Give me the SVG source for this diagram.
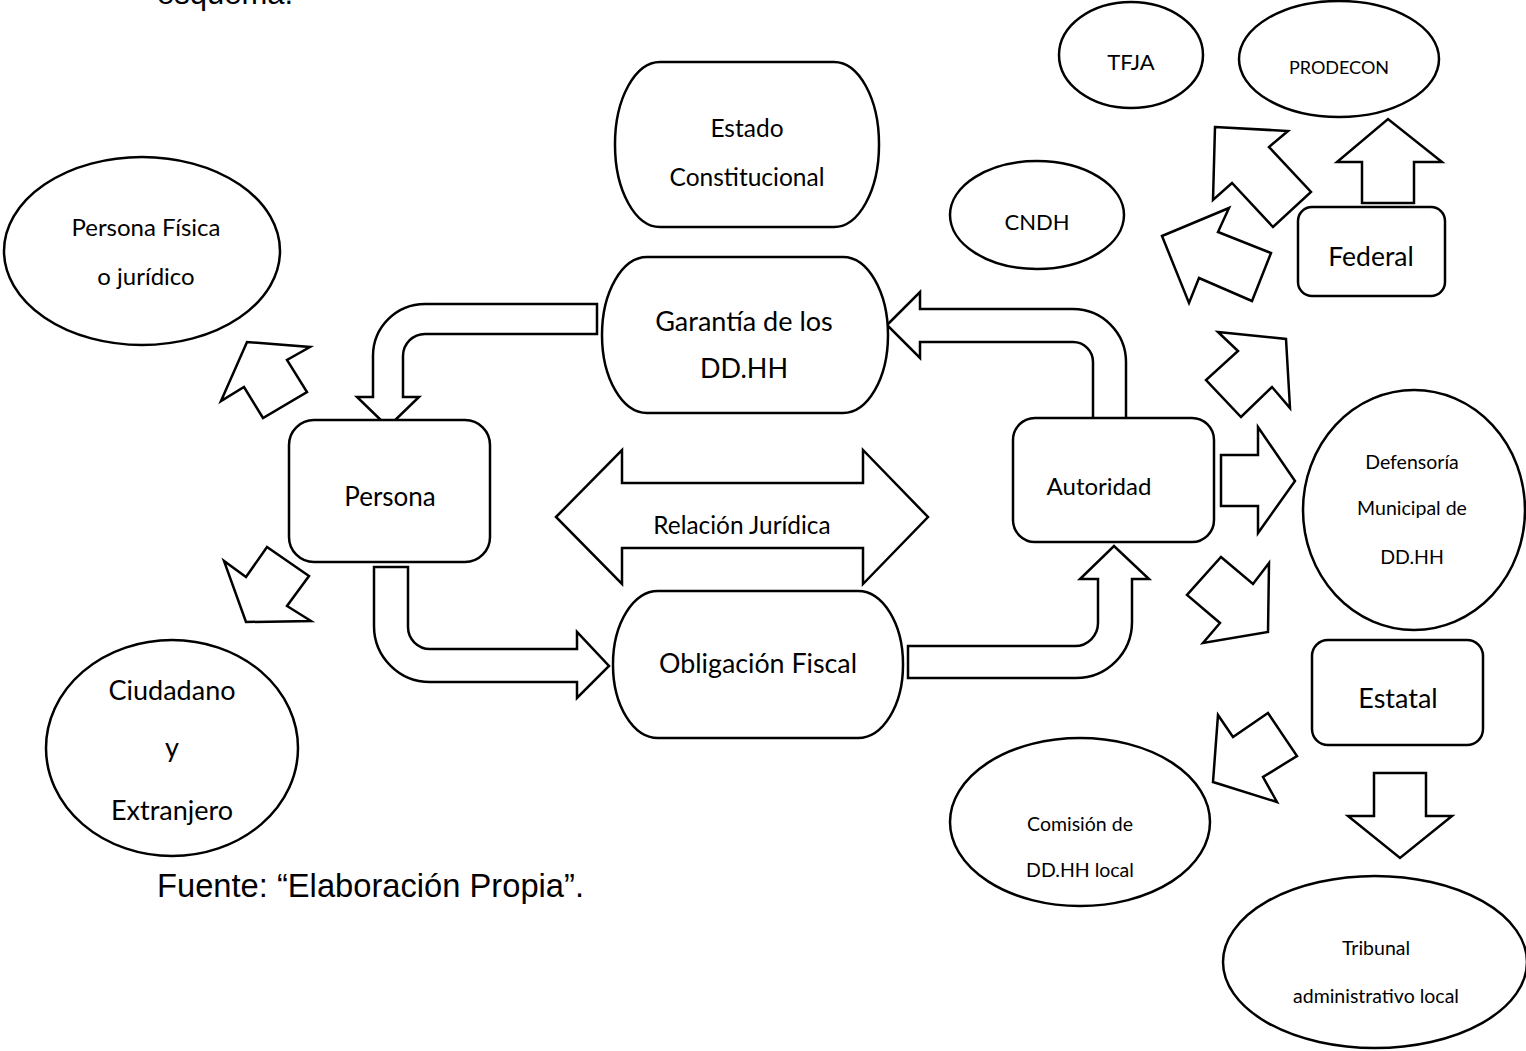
<svg xmlns="http://www.w3.org/2000/svg" width="1526" height="1051" viewBox="0 0 1526 1051">
<style>
.s{fill:#fff;stroke:#000;stroke-width:2.5;stroke-linejoin:miter}
.t{font-family:Lato,"Open Sans","Noto Sans",sans-serif;fill:#000;text-anchor:middle}
.a{font-family:"Liberation Sans",Arial,sans-serif;fill:#000}
</style>
<rect width="1526" height="1051" fill="#fff"/>
<text class="a" x="157" y="4" font-size="31">esquema.</text>
<text class="a" x="157" y="897" font-size="32.7">Fuente: “Elaboración Propia”.</text>

<g id="connectors">
<path class="s" d="M597,304 H425 A52,52 0 0 0 373,356 V397 H357 L388,427 L419,397 H403 V356 A22,22 0 0 1 425,334 H597 Z"/>
<path class="s" d="M374,567 H408 V627 A22,22 0 0 0 430,649 H577 V632 L609,666 L577,698 V682 H430 A56,56 0 0 1 374,626 Z"/>
<path class="s" d="M908,646 H1075 A23,23 0 0 0 1098,623 V579 H1080 L1114,546 L1149,579 H1132 V622 A56,56 0 0 1 1076,678 H908 Z"/>
<path class="s" d="M887,325 L920,292 V309 H1073 A53,53 0 0 1 1126,362 V423 H1093 V362 A20,20 0 0 0 1073,342 H920 V358 Z"/>
<polygon class="s" points="556,517 622,450 622,483 863,483 863,450 928,517 863,584 863,548 622,548 622,584"/>
<polygon class="s" points="221,401 247,342 310,347 287,360 307,392 263,418 244,387"/>
<polygon class="s" points="267,547 309,576 287,606 311,621 246,622 224,561 246,577"/>
<polygon class="s" points="1221,455 1258,455 1258,427 1295,481 1258,533 1258,506 1221,506"/>
<polygon class="s" points="1218,332 1286,339 1290,408 1272,387 1241,417 1206,380 1238,351"/>
<polygon class="s" points="1221,557 1253,584 1269,563 1268,632 1203,643 1220,623 1187,595"/>
<polygon class="s" points="1362,203 1362,162 1337,162 1388,119 1442,162 1414,162 1414,203"/>
<polygon class="s" points="1215,127 1288,131 1269,147 1311,192 1273,227 1232,183 1213,200"/>
<polygon class="s" points="1162,236 1229,208 1218,232 1271,253 1252,301 1199,278 1189,303"/>
<polygon class="s" points="1218,715 1233,737 1268,713 1297,756 1263,777 1277,802 1213,782"/>
<polygon class="s" points="1374,773 1426,773 1426,816 1452,816 1400,858 1348,816 1374,816"/>
</g>

<g id="persona-fisica"><ellipse class="s" cx="142" cy="251" rx="138" ry="94"/>
<text class="t" x="146" y="236" font-size="24">Persona Física</text><text class="t" x="146" y="285" font-size="24">o jurídico</text></g>
<g id="ciudadano"><ellipse class="s" cx="172" cy="748" rx="126" ry="108"/>
<text class="t" x="172" y="700" font-size="27">Ciudadano</text><text class="t" x="172" y="757" font-size="27">y</text><text class="t" x="172" y="820" font-size="27">Extranjero</text></g>
<g id="persona"><rect class="s" x="289" y="420" width="201" height="142" rx="25"/>
<text class="t" x="390" y="506" font-size="26">Persona</text></g>
<g id="estado"><rect class="s" x="615" y="62" width="264" height="165" rx="45" ry="82"/>
<text class="t" x="747" y="137" font-size="24.5">Estado</text><text class="t" x="747" y="186" font-size="24.5">Constitucional</text></g>
<g id="garantia"><rect class="s" x="602" y="257" width="286" height="156" rx="45" ry="78"/>
<text class="t" x="744" y="331" font-size="27">Garantía de los</text><text class="t" x="744" y="378" font-size="27">DD.HH</text></g>
<g id="relacion"><text class="t" x="742" y="534" font-size="24.4">Relación Jurídica</text></g>
<g id="obligacion"><rect class="s" x="613" y="591" width="290" height="147" rx="45" ry="73"/>
<text class="t" x="758" y="673" font-size="26.8">Obligación Fiscal</text></g>
<g id="autoridad"><rect class="s" x="1013" y="418" width="201" height="124" rx="22"/>
<text class="t" x="1099" y="495" font-size="24">Autoridad</text></g>
<g id="tfja"><ellipse class="s" cx="1131" cy="55" rx="72" ry="53"/>
<text class="t" x="1131" y="70" font-size="22">TFJA</text></g>
<g id="prodecon"><ellipse class="s" cx="1339" cy="59" rx="100" ry="58"/>
<text class="t" x="1339" y="74" font-size="18">PRODECON</text></g>
<g id="cndh"><ellipse class="s" cx="1037" cy="215" rx="87" ry="54"/>
<text class="t" x="1037" y="230" font-size="22">CNDH</text></g>
<g id="federal"><rect class="s" x="1298" y="207" width="147" height="89" rx="14"/>
<text class="t" x="1371" y="266" font-size="26.5">Federal</text></g>
<g id="defensoria"><ellipse class="s" cx="1414" cy="510" rx="111" ry="120"/>
<text class="t" x="1412" y="469" font-size="19.5">Defensoría</text><text class="t" x="1412" y="515" font-size="19.5">Municipal de</text><text class="t" x="1412" y="564" font-size="19.5">DD.HH</text></g>
<g id="estatal"><rect class="s" x="1312" y="640" width="171" height="105" rx="16"/>
<text class="t" x="1398" y="708" font-size="27">Estatal</text></g>
<g id="comision"><ellipse class="s" cx="1080" cy="822" rx="130" ry="84"/>
<text class="t" x="1080" y="831" font-size="19.5">Comisión de</text><text class="t" x="1080" y="877" font-size="19.5">DD.HH local</text></g>
<g id="tribunal"><ellipse class="s" cx="1375" cy="962" rx="152" ry="86"/>
<text class="t" x="1376" y="955" font-size="19.5">Tribunal</text><text class="t" x="1376" y="1003" font-size="19.5">administrativo local</text></g>
</svg>
